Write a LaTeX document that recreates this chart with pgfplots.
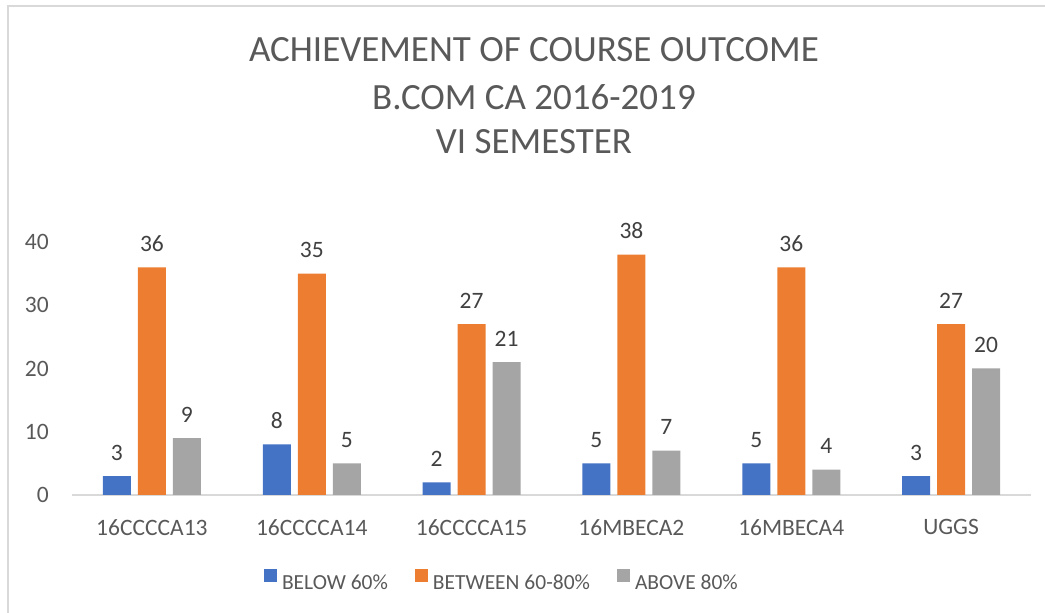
\documentclass[border=0pt]{standalone}
\usepackage{fontspec}
\setmainfont{Carlito}
\usepackage{pgfplots}
\pgfplotsset{compat=1.18}
\definecolor{cblue}{HTML}{4472C4}
\definecolor{corange}{HTML}{ED7D31}
\definecolor{cgray}{HTML}{A5A5A5}
\definecolor{ctext}{HTML}{595959}
\definecolor{clabel}{HTML}{404040}
\definecolor{cline}{HTML}{D9D9D9}
\begin{document}
\begin{tikzpicture}[x=1pt,y=1pt]
\useasboundingbox (0,0) rectangle (1045,613);
\draw[cline,line width=2pt] (7.5,0) -- (7.5,606.5) -- (1045,606.5);
\node[anchor=base,text=ctext,font=\fontsize{37}{44}\selectfont,inner sep=0] at (534,551) {ACHIEVEMENT OF COURSE OUTCOME};
\node[anchor=base,text=ctext,font=\fontsize{37}{44}\selectfont,inner sep=0] at (534,503) {B.COM CA 2016-2019};
\node[anchor=base,text=ctext,font=\fontsize{37}{44}\selectfont,inner sep=0] at (534,459) {VI SEMESTER};
\begin{axis}[
  at={(72pt,118pt)}, anchor=south west,
  scale only axis, width=959pt, height=253pt,
  xmin=-0.5, xmax=5.5, ymin=0, ymax=40,
  ybar=7pt, bar width=28pt,
  axis x line=bottom, axis y line=left,
  axis line style={-},
  y axis line style={draw=none},
  x axis line style={draw=cline, line width=1.5pt},
  major tick length=0pt,
  ytick={0,10,20,30,40},
  xtick={0,1,2,3,4,5},
  xticklabels={16CCCCA13,16CCCCA14,16CCCCA15,16MBECA2,16MBECA4,UGGS},
  tick label style={font=\fontsize{23.5}{27}\selectfont, text=ctext},
  /pgf/number format/assume math mode=true,
  yticklabel style={inner sep=0pt, anchor=east, xshift=-23pt},
  xticklabel style={inner sep=0pt, anchor=north, yshift=-24pt},
  nodes near coords,
  every node near coord/.append style={font=\fontsize{23.5}{27}\selectfont, text=clabel, anchor=base, yshift=16pt, inner sep=0pt},
  clip=false,
  legend columns=3,
  legend image code/.code={\fill[#1] (0pt,0pt) rectangle (13pt,13pt);},
  legend style={draw=none, fill=none, at={(0.4473,-0.336)}, anchor=center,
    font=\fontsize{21.5}{25}\selectfont, text=ctext,
    nodes={inner sep=0pt},
    /tikz/every odd column/.append style={column sep=5pt},
    /tikz/every even column/.append style={column sep=27pt}},
]
\addplot[fill=cblue, draw=none] coordinates {(0,3) (1,8) (2,2) (3,5) (4,5) (5,3)};
\addplot[fill=corange, draw=none] coordinates {(0,36) (1,35) (2,27) (3,38) (4,36) (5,27)};
\addplot[fill=cgray, draw=none] coordinates {(0,9) (1,5) (2,21) (3,7) (4,4) (5,20)};
\legend{BELOW 60\%, BETWEEN 60-80\%, ABOVE 80\%}
\end{axis}
\end{tikzpicture}
\end{document}
